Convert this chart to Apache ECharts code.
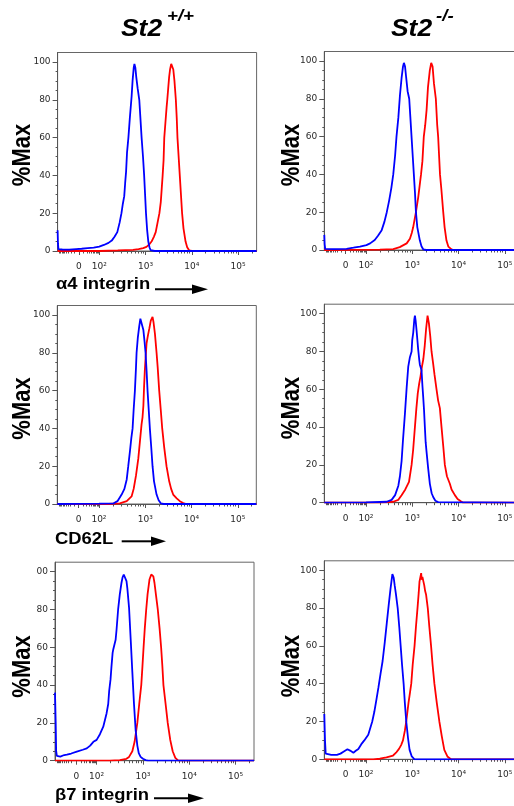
<!DOCTYPE html>
<html>
<head>
<meta charset="utf-8">
<script src="https://cdn.jsdelivr.net/npm/echarts@6.0.0/dist/echarts.min.js"></script>
<style>
html,body{margin:0;padding:0;background:#fff;}
#chart{width:514px;height:806px;}
</style>
</head>
<body>
<div id="chart"></div>
<script>
// ---- tick labels / categories ----
const genotypes = ['St2', 'St2'];
const genotypeSup = ['+/+', '-/-'];
const markers = ['α4 integrin', 'CD62L', 'β7 integrin'];
const xTickPos = [1.56, 2, 3, 4, 5];          // display position (log-like channel units)
const xTickLabels = ['0', '10²', '10³', '10⁴', '10⁵'];
const yTickValues = [0, 20, 40, 60, 80, 100];
const yTickLabels = ['0', '20', '40', '60', '80', '100'];
const yTickLabelsB7WT = ['0', '20', '40', '60', '80', '00'];
const yLabel = '%Max';

// ---- series values: [channel position, %Max] ----
const a4WT_blue = [[1.10,11],[1.108,4],[1.118,1],[1.2,0.8],[1.35,0.7],[1.5,1],[1.62,1.2],[1.75,1.5],[1.88,1.8],[2.0,2.3],[2.1,3.2],[2.2,4.3],[2.27,5.5],[2.33,7.5],[2.39,10],[2.44,15],[2.48,20],[2.51,25],[2.54,29],[2.56,36],[2.58,42],[2.60,52],[2.63,60],[2.66,70],[2.70,82],[2.72,90],[2.745,97],[2.76,99],[2.78,97],[2.80,92],[2.83,86],[2.865,80],[2.89,70],[2.915,60],[2.945,50],[2.97,40],[2.99,30],[3.01,20],[3.035,11],[3.06,5],[3.085,2],[3.11,0.5],[3.2,0],[5.4,0]];
const a4WT_red = [[1.1,0],[2.0,0],[2.4,0.3],[2.73,0.6],[2.85,1],[2.95,1.5],[3.02,2.2],[3.08,3.5],[3.13,5],[3.18,7.5],[3.22,10],[3.26,15],[3.30,20],[3.33,26],[3.35,33],[3.37,40],[3.39,48],[3.405,60],[3.43,68],[3.455,76],[3.47,80],[3.49,86],[3.51,92],[3.53,96],[3.555,99],[3.575,99],[3.60,96],[3.625,90],[3.655,80],[3.675,70],[3.69,60],[3.715,50],[3.74,40],[3.765,30],[3.79,20],[3.82,12],[3.865,5],[3.90,2],[3.945,0.3],[4.0,0],[5.4,0]];
const a4KO_blue = [[1.10,8],[1.108,3],[1.12,0.6],[1.3,0.5],[1.58,0.6],[1.73,1.2],[1.87,1.8],[2.01,2.6],[2.09,3.5],[2.19,5.3],[2.26,7.5],[2.34,10.5],[2.40,15],[2.45,20],[2.50,26],[2.55,33],[2.59,40],[2.63,50],[2.66,60],[2.70,70],[2.735,82],[2.77,91],[2.80,97],[2.82,99],[2.845,97],[2.87,91],[2.90,84],[2.935,80],[2.96,70],[2.985,60],[3.01,50],[3.035,40],[3.06,30],[3.08,20],[3.11,12],[3.165,5],[3.2,2],[3.24,0.3],[3.3,0],[5.4,0]];
const a4KO_red = [[1.1,0],[2.3,0.2],[2.59,0.5],[2.73,1.5],[2.88,3.5],[2.95,6],[2.99,9],[3.02,12],[3.08,20],[3.13,28],[3.19,40],[3.22,47],[3.25,60],[3.28,66],[3.31,74],[3.34,86],[3.38,95],[3.41,99],[3.44,97],[3.47,88],[3.51,80],[3.54,66],[3.56,60],[3.58,50],[3.60,40],[3.63,32],[3.67,20],[3.70,12],[3.74,5],[3.78,1.8],[3.85,0.3],[3.9,0],[5.4,0]];
const cd62WT_blue = [[1.1,0],[1.5,0.1],[2.0,0.2],[2.31,0.3],[2.40,1.5],[2.49,5],[2.55,8],[2.60,13],[2.633,20],[2.67,28],[2.70,35],[2.727,40],[2.75,50],[2.777,60],[2.80,72],[2.813,80],[2.84,88],[2.87,94],[2.895,98],[2.91,99],[2.93,97],[2.96,92],[2.985,86],[3.007,80],[3.03,70],[3.05,60],[3.075,50],[3.10,40],[3.13,30],[3.158,20],[3.19,12],[3.245,5],[3.29,2],[3.34,0.3],[3.4,0],[5.4,0]];
const cd62WT_red = [[1.1,0],[2.2,0],[2.45,0.3],[2.6,1.5],[2.705,4],[2.75,8],[2.80,15],[2.85,24],[2.885,33],[2.92,42],[2.942,46],[2.96,52],[2.975,62],[2.99,70],[3.007,77],[3.029,85],[3.05,88],[3.065,90],[3.09,93],[3.12,97],[3.158,99],[3.18,96],[3.21,90],[3.245,80],[3.27,72],[3.302,60],[3.335,50],[3.367,40],[3.41,30],[3.46,20],[3.518,12],[3.56,8],[3.604,5],[3.68,3],[3.748,1.5],[3.82,0.5],[3.89,0],[5.4,0]];
const cd62KO_blue = [[1.1,0],[2.0,0.2],[2.446,0.5],[2.554,1.5],[2.63,4],[2.70,9],[2.734,14],[2.77,22],[2.80,33],[2.842,47],[2.88,61],[2.914,72],[2.95,77],[2.97,76],[2.986,80],[3.00,86],[3.022,90],[3.045,97],[3.058,99],[3.075,96],[3.094,91],[3.115,85],[3.129,81],[3.15,76],[3.165,73],[3.185,72],[3.201,70],[3.22,62],[3.237,56],[3.255,49],[3.273,40],[3.29,32],[3.309,27],[3.345,18],[3.381,10],[3.42,5],[3.453,3],[3.5,1],[3.561,0.3],[3.6,0],[5.4,0]];
const cd62KO_red = [[1.1,0],[2.3,0.1],[2.59,0.5],[2.70,1.5],[2.77,4],[2.85,7],[2.93,11],[2.986,20],[3.02,28],[3.058,40],[3.09,50],[3.12,58],[3.15,63],[3.18,67],[3.21,72],[3.24,76],[3.27,83],[3.30,92],[3.331,99],[3.36,95],[3.39,88],[3.417,80],[3.45,74],[3.48,68],[3.525,60],[3.56,54],[3.597,50],[3.633,40],[3.67,30],[3.705,20],[3.75,14],[3.813,10],[3.85,7],[3.921,4],[3.98,2],[4.05,0.8],[4.1,0],[5.4,0]];
const b7WT_blue = [[1.10,36],[1.115,20],[1.125,5],[1.14,2.5],[1.157,2],[1.214,2.2],[1.30,3],[1.357,3.2],[1.45,3.8],[1.571,4.8],[1.70,5.8],[1.786,6.5],[1.86,8],[1.929,10],[2.0,11],[2.071,14],[2.143,18],[2.214,25],[2.25,30],[2.271,37],[2.30,43],[2.321,50],[2.345,57],[2.36,59],[2.38,59],[2.393,60],[2.41,64],[2.429,69],[2.464,80],[2.5,88],[2.536,94],[2.56,97],[2.586,98.5],[2.61,98.5],[2.629,98],[2.645,95],[2.664,91],[2.70,81],[2.736,64],[2.771,47],[2.807,30],[2.843,16],[2.879,8],[2.91,4],[2.95,2],[3.0,1],[3.06,0.3],[3.107,0],[5.4,0]];
const b7WT_red = [[1.1,0],[2.286,0],[2.5,0.3],[2.643,1],[2.70,2],[2.771,5],[2.82,10],[2.879,20],[2.92,30],[2.964,40],[2.99,50],[3.014,60],[3.04,70],[3.071,80],[3.10,88],[3.143,96],[3.18,98.5],[3.2,98.5],[3.225,97.5],[3.25,94],[3.285,87],[3.321,80],[3.36,70],[3.393,60],[3.42,50],[3.443,40],[3.49,30],[3.536,20],[3.59,11],[3.643,5],[3.70,1.5],[3.764,0],[5.4,0]];
const b7KO_blue = [[1.10,24],[1.115,10],[1.13,3],[1.15,2.5],[1.25,2.3],[1.371,2.3],[1.45,3],[1.514,4],[1.6,5.3],[1.657,4.6],[1.729,3.5],[1.78,4.5],[1.836,5.5],[1.9,8],[1.964,10],[2.0,10.5],[2.05,13],[2.136,20],[2.18,25],[2.229,32],[2.27,38],[2.314,45],[2.36,52],[2.407,62],[2.45,72],[2.493,82],[2.53,90],[2.571,98],[2.60,96],[2.621,92],[2.65,87],[2.686,80],[2.72,70],[2.75,60],[2.78,50],[2.814,40],[2.84,30],[2.871,20],[2.91,11],[2.943,5],[2.99,1.5],[3.05,0],[5.4,0]];
const b7KO_red = [[1.1,0],[2.157,0],[2.3,0.3],[2.443,1],[2.586,2],[2.65,3.5],[2.714,5.5],[2.76,7.5],[2.8,10],[2.84,15],[2.871,20],[2.92,30],[2.95,35],[2.979,40],[3.01,50],[3.05,60],[3.08,70],[3.114,80],[3.14,88],[3.157,94],[3.193,98.5],[3.205,95],[3.22,96.5],[3.243,96],[3.26,92],[3.279,89],[3.30,87],[3.336,80],[3.37,70],[3.407,60],[3.44,50],[3.479,40],[3.53,30],[3.586,20],[3.64,12],[3.693,5],[3.76,1.5],[3.836,0],[5.4,0]];

// ---- layout (positions / styles) ----
const X_MIN = 1.1, X_MAX = 5.4, Y_MAX = 105;
const GW = 199, GH = 198.5;
const panels = [
  {left: 57.6,  top: 52.5,  blue: a4WT_blue,   red: a4WT_red,   yl: yTickLabels},
  {left: 324.3, top: 51.5,  blue: a4KO_blue,   red: a4KO_red,   yl: yTickLabels},
  {left: 57.3,  top: 305.5, blue: cd62WT_blue, red: cd62WT_red, yl: yTickLabels},
  {left: 324.3, top: 304.2, blue: cd62KO_blue, red: cd62KO_red, yl: yTickLabels},
  {left: 55.0,  top: 562.2, blue: b7WT_blue,   red: b7WT_red,   yl: yTickLabelsB7WT},
  {left: 324.3, top: 560.8, blue: b7KO_blue,   red: b7KO_red,   yl: yTickLabels}
];

// minor tick positions
const xMinor = [];
for (let d = 2; d <= 5; d++) {
  for (let k = 2; k <= 9; k++) {
    const t = d + Math.log10(k);
    if (t < X_MAX) xMinor.push(t);
  }
}
[10,20,30,40,50,60,70,80,90].forEach(v => {
  const f = Math.log10(1 + v / 20) / Math.log10(6) * 0.44;
  xMinor.push(1.56 + f);
  if (1.56 - f > X_MIN) xMinor.push(1.56 - f);
});
const yMinor = [];
for (let v = 5; v < 100; v += 5) if (v % 20 !== 0) yMinor.push(v);

const AX = '#555', LBL = '#2a2a2a';
const grids = [], xAxes = [], yAxes = [], series = [];
panels.forEach((p, i) => {
  grids.push({left: p.left, top: p.top, width: GW, height: GH, show: true,
    borderColor: '#666', borderWidth: 1, containLabel: false, outerBoundsMode: 'none'});
  xAxes.push({type: 'value', gridIndex: i, min: X_MIN, max: X_MAX, position: 'bottom',
    axisLine: {show: true, lineStyle: {color: AX, width: 1}},
    axisTick: {show: true, customValues: xTickPos, length: 4, lineStyle: {color: AX}},
    axisLabel: {show: true, customValues: xTickPos, margin: 11, fontSize: 9,
      fontFamily: 'DejaVu Sans', color: LBL,
      formatter: v => { const j = xTickPos.findIndex(q => Math.abs(q - v) < 1e-6); return j >= 0 ? xTickLabels[j] : ''; }},
    splitLine: {show: false}});
  xAxes.push({type: 'value', gridIndex: i, min: X_MIN, max: X_MAX, position: 'bottom', offset: 0,
    axisLine: {show: false},
    axisTick: {show: true, customValues: xMinor, length: 2.5, lineStyle: {color: AX}},
    axisLabel: {show: false}, splitLine: {show: false}});
  yAxes.push({type: 'value', gridIndex: i, min: 0, max: Y_MAX, position: 'left',
    axisLine: {show: true, lineStyle: {color: AX, width: 1}},
    axisTick: {show: true, customValues: yTickValues, length: 5, lineStyle: {color: AX}},
    axisLabel: {show: true, customValues: yTickValues, margin: 7, fontSize: 9,
      fontFamily: 'DejaVu Sans', color: LBL,
      formatter: v => { const j = yTickValues.indexOf(v); return j >= 0 ? p.yl[j] : ''; }},
    splitLine: {show: false}});
  yAxes.push({type: 'value', gridIndex: i, min: 0, max: Y_MAX, position: 'left', offset: 0,
    axisLine: {show: false},
    axisTick: {show: true, customValues: yMinor, length: 2, lineStyle: {color: AX}},
    axisLabel: {show: false}, splitLine: {show: false}});
  series.push({type: 'line', xAxisIndex: 2 * i, yAxisIndex: 2 * i, data: p.red,
    showSymbol: false, symbol: 'none', lineStyle: {color: '#ff0000', width: 1.8}, z: 2, silent: true});
  series.push({type: 'line', xAxisIndex: 2 * i, yAxisIndex: 2 * i, data: p.blue,
    showSymbol: false, symbol: 'none', lineStyle: {color: '#0000ff', width: 1.8}, z: 3, silent: true});
});

// ---- annotations ----
const graphic = [];
const titleX = [121, 391], supX = [167, 436];
genotypes.forEach((g, i) => {
  graphic.push({type: 'text', x: titleX[i], y: 29, scaleX: 1.1,
    style: {text: g, fill: '#000', align: 'left', verticalAlign: 'middle',
      font: 'italic bold 24px "Liberation Sans", Arial, sans-serif'}});
  graphic.push({type: 'text', x: supX[i], y: 16, scaleX: 1.1,
    style: {text: genotypeSup[i], fill: '#000', align: 'left', verticalAlign: 'middle',
      font: 'italic bold 17px "Liberation Sans", Arial, sans-serif'}});
});
const yNamePos = [[23, 155], [292, 155], [23, 408.5], [292, 408], [23, 666.5], [292, 666]];
yNamePos.forEach(q => {
  graphic.push({type: 'text', x: q[0], y: q[1], rotation: Math.PI / 2, scaleY: 1.15,
    style: {text: yLabel, fill: '#000', align: 'center', verticalAlign: 'middle',
      font: 'bold 22px "Liberation Sans", Arial, sans-serif'}});
});
const xNamePos = [[56, 284.5], [55, 539.3], [55, 795.5]];
const arrows = [[155, 194, 208, 289.3], [121.7, 153, 166, 541.3], [154, 190, 204, 798.3]];
markers.forEach((m, i) => {
  graphic.push({type: 'text', x: xNamePos[i][0], y: xNamePos[i][1], scaleX: 1.15,
    style: {text: m, fill: '#000', align: 'left', verticalAlign: 'middle',
      font: 'bold 16px "Liberation Sans", Arial, sans-serif'}});
  const a = arrows[i];
  graphic.push({type: 'line', shape: {x1: a[0], y1: a[3], x2: a[1], y2: a[3]},
    style: {stroke: '#000', lineWidth: 2}});
  graphic.push({type: 'polygon', shape: {points: [[a[1] - 2, a[3] - 4.8], [a[2], a[3]], [a[1] - 2, a[3] + 4.8]]},
    style: {fill: '#000'}});
});

const chart = echarts.init(document.getElementById('chart'), null, {renderer: 'canvas'});
chart.setOption({
  animation: false,
  backgroundColor: '#fff',
  textStyle: {fontFamily: '"Liberation Sans", Arial, sans-serif'},
  grid: grids, xAxis: xAxes, yAxis: yAxes, series: series, graphic: graphic
});
</script>
</body>
</html>
